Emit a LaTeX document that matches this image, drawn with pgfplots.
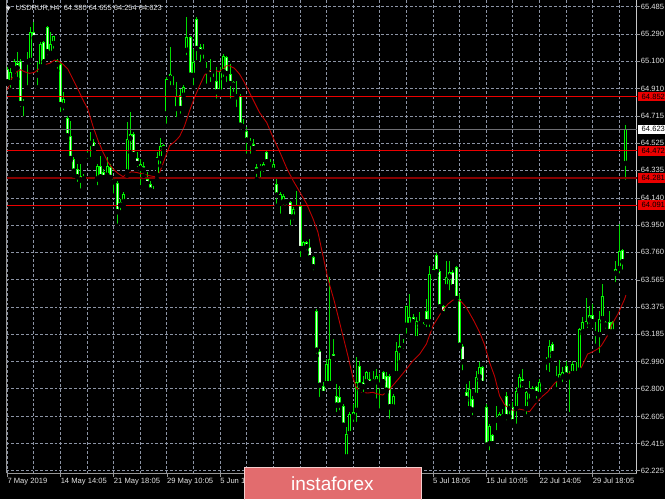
\documentclass[border=0pt]{standalone}
\usepackage{pgfplots}
\pgfplotsset{compat=1.18}
\usepackage{pgfplotstable}
\usepackage{fontspec}
\setmainfont{Liberation Sans}

\definecolor{wick}{RGB}{0,220,0}
\definecolor{bodyedge}{RGB}{0,250,0}
\definecolor{bearfill}{RGB}{220,255,220}
\definecolor{gridc}{RGB}{140,148,165}
\definecolor{hred}{RGB}{235,0,0}
\definecolor{hdark}{RGB}{135,0,0}
\definecolor{marc}{RGB}{190,0,0}
\definecolor{curline}{RGB}{110,110,115}
\definecolor{wmfill}{RGB}{226,108,110}
\definecolor{wmedge}{RGB}{245,205,205}
\definecolor{labc}{RGB}{228,228,228}
\definecolor{framec}{RGB}{150,150,150}
\definecolor{rightc}{RGB}{200,200,200}
\newcommand{\lab}{\fontsize{7.6}{9}\selectfont}
\tikzset{gridline/.style={draw=gridc, line width=1pt, dash pattern=on 2.7pt off 2.1pt}}

\pgfplotstableread{
i o h l c
0 65.046 65.058 64.941 64.952
1 64.948 65.050 64.900 65.027
2 65.027 65.116 65.000 65.104
3 65.090 65.168 64.976 65.050
4 65.104 65.116 64.765 64.800
5 64.800 64.835 64.700 64.814
6 65.093 65.163 64.917 65.104
7 65.104 65.339 65.069 65.304
8 65.304 65.374 65.257 65.261
9 65.011 65.093 64.917 65.000
10 65.058 65.233 65.034 65.222
11 65.233 65.245 65.069 65.093
12 65.339 65.350 65.128 65.163
13 65.151 65.304 65.128 65.222
14 65.222 65.280 65.175 65.275
15 65.104 65.116 65.034 65.075
16 65.081 65.093 64.730 64.793
17 64.784 64.882 64.742 64.835
18 64.700 64.718 64.543 64.573
19 64.573 64.683 64.402 64.414
20 64.414 64.426 64.297 64.325
21 64.344 64.379 64.239 64.285
22 64.297 64.379 64.192 64.262
23 64.290 64.309 64.245 64.270
24 64.436 64.473 64.402 64.456
25 64.536 64.606 64.414 64.520
26 64.531 64.555 64.473 64.484
27 64.270 64.379 64.215 64.363
28 64.367 64.437 64.262 64.285
29 64.320 64.344 64.262 64.280
30 64.297 64.426 64.274 64.363
31 64.356 64.379 64.250 64.281
32 64.278 64.285 64.157 64.250
33 64.245 64.262 63.946 64.040
34 64.114 64.133 64.040 64.086
35 64.110 64.180 64.086 64.168
36 64.320 64.672 64.297 64.555
37 64.555 64.742 64.461 64.590
38 64.590 64.601 64.426 64.442
39 64.421 64.461 64.344 64.379
40 64.344 64.414 64.215 64.379
41 64.367 64.391 64.297 64.332
42 64.274 64.320 64.215 64.238
43 64.238 64.262 64.180 64.192
44 64.192 64.227 64.168 64.180
45 64.297 64.461 64.274 64.426
46 64.414 64.559 64.367 64.508
47 64.512 64.519 64.473 64.484
48 64.730 64.988 64.648 64.976
49 64.976 65.198 64.917 65.011
50 65.011 65.027 64.917 65.023
51 64.765 64.952 64.695 64.859
52 64.864 64.906 64.718 64.765
53 64.859 64.933 64.835 64.917
54 65.175 65.409 65.128 65.268
55 65.268 65.280 64.988 64.999
56 64.999 65.187 64.917 65.093
57 65.397 65.409 65.093 65.187
58 65.198 65.222 65.081 65.163
59 65.163 65.222 65.104 65.187
60 65.040 65.093 64.929 65.030
61 65.040 65.116 64.941 65.004
62 65.030 65.046 64.976 65.040
63 64.964 65.058 64.824 64.882
64 64.882 65.058 64.870 65.034
65 65.023 65.151 64.976 65.140
66 65.128 65.140 64.941 65.011
67 65.011 65.081 64.824 64.941
68 64.952 64.964 64.871 64.929
69 64.859 64.964 64.765 64.847
70 64.859 64.871 64.636 64.648
71 64.636 64.695 64.613 64.648
72 64.613 64.636 64.437 64.543
73 64.543 64.559 64.437 64.520
74 64.520 64.555 64.473 64.484
75 64.356 64.379 64.274 64.325
76 64.367 64.379 64.262 64.344
77 64.344 64.391 64.309 64.379
78 64.461 64.470 64.367 64.391
79 64.395 64.414 64.356 64.372
80 64.332 64.402 64.309 64.379
81 64.239 64.274 64.086 64.157
82 64.098 64.180 64.016 64.168
83 64.110 64.168 64.075 64.157
84 64.121 64.133 64.075 64.110
85 64.114 64.121 63.934 64.004
86 64.004 64.075 63.969 64.063
87 64.063 64.192 64.051 64.086
88 64.086 64.098 63.712 63.782
89 63.782 63.841 63.759 63.829
90 63.829 63.841 63.759 63.794
91 63.794 63.853 63.712 63.717
92 63.723 63.735 63.618 63.653
93 63.349 63.361 63.033 63.068
94 63.068 63.080 62.729 62.822
95 62.822 62.846 62.741 62.764
96 62.834 63.010 62.822 62.974
97 62.834 63.583 62.822 63.010
98 63.045 63.150 62.986 63.010
99 62.752 62.834 62.623 62.682
100 62.740 62.822 62.635 62.682
101 62.682 62.693 62.518 62.541
102 62.319 62.529 62.307 62.483
103 62.483 62.635 62.471 62.623
104 62.600 62.693 62.553 62.635
105 62.647 63.022 62.553 62.846
106 62.963 62.998 62.787 62.822
107 62.846 62.892 62.764 62.811
108 62.846 62.928 62.822 62.916
109 62.869 62.916 62.822 62.834
110 62.846 62.928 62.834 62.869
111 62.846 62.939 62.717 62.892
112 62.834 62.904 62.647 62.822
113 62.916 62.928 62.834 62.846
114 62.892 62.916 62.775 62.787
115 62.888 62.904 62.576 62.670
116 62.670 62.764 62.658 62.752
117 62.904 63.126 62.893 63.068
118 63.068 63.185 62.986 63.103
119 63.100 63.150 63.068 63.115
120 63.244 63.384 63.173 63.384
121 63.244 63.466 63.232 63.302
122 63.302 63.326 63.255 63.267
123 63.150 63.302 63.138 63.279
124 63.279 63.337 63.232 63.255
125 63.255 63.267 63.220 63.232
126 63.349 63.431 63.220 63.267
127 63.267 63.665 63.220 63.606
128 63.595 63.665 63.583 63.642
129 63.740 63.754 63.595 63.618
130 63.630 63.642 63.349 63.372
131 63.384 63.389 63.314 63.326
132 63.513 63.700 63.501 63.583
133 63.583 63.700 63.478 63.623
134 63.623 63.637 63.501 63.513
135 63.658 63.665 63.419 63.431
136 63.431 63.466 63.091 63.103
137 63.103 63.115 62.916 62.986
138 62.776 62.834 62.717 62.729
139 62.658 62.857 62.646 62.799
140 62.729 62.752 62.600 62.647
141 62.752 62.928 62.740 62.881
142 62.881 62.986 62.857 62.951
143 62.951 62.963 62.822 62.834
144 62.670 62.693 62.389 62.401
145 62.412 62.553 62.354 62.541
146 62.476 62.483 62.401 62.412
147 62.593 62.682 62.495 62.576
148 62.588 62.635 62.576 62.623
149 62.623 62.658 62.588 62.600
150 62.752 62.775 62.565 62.600
151 62.681 62.693 62.607 62.658
152 62.670 62.705 62.541 62.565
153 62.658 62.811 62.541 62.787
154 62.787 62.904 62.776 62.881
155 62.869 62.940 62.799 62.834
156 62.658 62.787 62.607 62.780
157 62.780 62.858 62.717 62.787
158 62.776 62.822 62.752 62.803
159 62.811 62.822 62.717 62.764
160 62.757 62.869 62.752 62.851
161 62.851 62.858 62.811 62.841
162 62.986 63.022 62.916 62.998
163 62.998 63.145 62.904 63.103
164 63.115 63.127 63.033 63.045
165 62.881 62.963 62.799 62.869
166 62.858 63.005 62.834 62.904
167 62.881 62.951 62.834 62.916
168 62.963 62.998 62.869 62.893
169 62.893 62.928 62.623 62.881
170 62.904 62.998 62.893 62.975
171 62.904 62.986 62.893 62.920
172 62.928 63.225 62.916 63.220
173 63.197 63.302 63.185 63.272
174 63.209 63.436 63.197 63.279
175 63.279 63.384 63.244 63.318
176 63.318 63.396 63.244 63.267
177 63.202 63.267 63.103 63.185
178 63.178 63.349 63.038 63.290
179 63.290 63.536 63.267 63.454
180 63.267 63.279 63.209 63.244
181 63.267 63.349 63.185 63.197
182 63.197 63.279 63.185 63.267
183 63.607 63.700 63.536 63.642
184 63.642 63.958 63.595 63.771
185 63.775 63.782 63.623 63.689
186 64.380 64.655 64.254 64.623
}\candles

\begin{document}
\begin{tikzpicture}[x=1pt,y=1pt]
\useasboundingbox (0,0) rectangle (665,499);
\clip (0,0) rectangle (665,499);
\fill[black] (0,0) rectangle (665,499);
\begin{axis}[
  at={(2,18)}, anchor=south west,
  scale only axis, width=630pt, height=481pt,
  xmin=-0.2105, xmax=189.23, ymin=62.2068, ymax=65.5846,
  clip=false,
  axis x line*=bottom, axis y line*=right,
  axis line style={framec, line width=1pt},
  y axis line style={rightc, line width=1pt},
  xtick={0,16,...,176},
  xticklabels={},
  ytick={62.225,62.415,62.605,62.800,62.990,63.185,63.375,63.565,63.760,63.950,64.140,64.335,64.525,64.715,64.910,65.100,65.290,65.485},
  yticklabels={62.225,62.415,62.605,62.800,62.990,63.185,63.375,63.565,63.760,63.950,64.140,64.335,64.525,64.715,64.910,65.100,65.290,65.485},
  tick align=outside,
  major tick length=3.5pt,
  tick style={color=framec, line width=0.8pt},
  ticklabel style={font=\lab, text=labc, inner sep=0pt},
  yticklabel style={anchor=west, xshift=0.5pt},
]
% grid
\pgfplotsinvokeforeach{0,8,...,184}{\draw[gridline] (axis cs:#1,62.2068) -- (axis cs:#1,65.5846);}
\pgfplotsinvokeforeach{62.225,62.415,62.605,62.800,62.990,63.185,63.375,63.565,63.760,63.950,64.140,64.335,64.525,64.715,64.910,65.100,65.290,65.485}{\draw[gridline] (axis cs:-0.2105,#1) -- (axis cs:189.23,#1);}
% wicks
\addplot[only marks, mark=none,
  error bars/.cd, y dir=plus, y explicit, error mark=none,
  error bar style={line width=1pt, color=wick}]
  table[x=i, y=l, y error expr=\thisrow{h}-\thisrow{l}] {\candles};
% body outlines
\addplot[only marks, mark=none,
  error bars/.cd, y dir=plus, y explicit, error mark=none,
  error bar style={line width=3pt, color=bodyedge}]
  table[x=i, y expr={min(\thisrow{o},\thisrow{c})}, y error expr={max(abs(\thisrow{c}-\thisrow{o}),0.008)}] {\candles};
% bear fill
\addplot[only marks, mark=none,
  error bars/.cd, y dir=plus, y explicit, error mark=none,
  error bar style={line width=1.1pt, color=bearfill}]
  table[x=i, y expr={min(\thisrow{o},\thisrow{c})+0.007}, y error expr={max(\thisrow{o}-\thisrow{c}-0.014,0)}] {\candles};
% bull fill
\addplot[only marks, mark=none,
  error bars/.cd, y dir=plus, y explicit, error mark=none,
  error bar style={line width=1.1pt, color=black}]
  table[x=i, y expr={min(\thisrow{o},\thisrow{c})+0.007}, y error expr={max(\thisrow{c}-\thisrow{o}-0.014,0)}] {\candles};
% moving average
\addplot[marc, line width=0.9pt] coordinates {
(0,64.900) (1.2,64.976) (2.7,65.027) (4,65.041) (5.2,65.027) (6.7,65.016) (8.2,65.023) (9.7,65.051) (11.2,65.077) (12.7,65.086) (14.2,65.109) (15.2,65.104) (16.7,65.081) (18.2,65.046) (19.7,64.976) (21.2,64.906) (22.7,64.831) (24.2,64.765) (25.7,64.648) (27.3,64.543) (28.8,64.461) (30.3,64.391) (31.8,64.344) (33.3,64.313) (34.8,64.290) (35.8,64.309) (37.3,64.325) (38.8,64.320) (40.8,64.309) (42.8,64.297) (44.3,64.290) (45.8,64.320) (47.3,64.414) (48.8,64.508) (50.3,64.536) (51.8,64.573) (53.3,64.648) (54.8,64.753) (56.3,64.847) (57.8,64.929) (59.3,65.004) (60.8,65.034) (62.3,65.041) (63.6,65.027) (64.8,65.046) (65.8,65.069) (66.8,65.069) (68.3,65.051) (69.8,65.011) (71.3,64.952) (72.8,64.882) (74.3,64.812) (75.8,64.742) (78,64.670) (80,64.560) (82,64.460) (84,64.350) (86,64.260) (88,64.180) (90,64.100) (92,63.990) (93.4,63.900) (94.9,63.735) (96.4,63.572) (98.4,63.408) (100.4,63.220) (102.4,63.033) (103.9,62.881) (104.9,62.811) (106.4,62.776) (108.4,62.771) (109.9,62.776) (111.4,62.764) (112.9,62.757) (115,62.799) (118,62.881) (120,62.939) (122,62.998) (124,63.045) (126,63.115) (128,63.244) (129.5,63.300) (131,63.356) (132.5,63.396) (134,63.424) (135.2,63.426) (136.5,63.412) (138,63.372) (140,63.290) (142,63.197) (143.5,63.110) (145,62.986) (146.5,62.890) (148,62.752) (149.5,62.690) (151,62.658) (152.5,62.648) (154,62.658) (155.5,62.651) (157,62.640) (159,62.700) (160.5,62.740) (162.5,62.780) (164.6,62.840) (166.6,62.881) (168.5,62.900) (169.6,62.916) (171.5,62.920) (172.6,62.950) (174.5,63.045) (175.6,63.056) (177.5,63.080) (178.6,63.103) (180.5,63.176) (181.6,63.244) (183.6,63.326) (185.6,63.430) (186,63.459)};
% horizontal levels
\addplot[hred, line width=1pt] coordinates {(-0.2105,64.852) (189.23,64.852)};
\addplot[hred, line width=1pt] coordinates {(-0.2105,64.472) (189.23,64.472)};
\addplot[hdark, line width=2.8pt] coordinates {(-0.2105,64.281) (189.23,64.281)};
\addplot[hred, line width=1pt] coordinates {(-0.2105,64.091) (189.23,64.091)};
\addplot[curline, line width=1.6pt] coordinates {(-0.2105,64.623) (189.23,64.623)};
% left frame
\draw[framec, line width=1.6pt] (rel axis cs:0,0) -- (rel axis cs:0,1);
% x tick labels
\node[anchor=north west, inner sep=0pt, font=\lab, text=labc, yshift=-4.2pt] at (axis cs:0,62.2068) {7 May 2019};
\node[anchor=north west, inner sep=0pt, font=\lab, text=labc, yshift=-4.2pt] at (axis cs:16,62.2068) {14 May 14:05};
\node[anchor=north west, inner sep=0pt, font=\lab, text=labc, yshift=-4.2pt] at (axis cs:32,62.2068) {21 May 18:05};
\node[anchor=north west, inner sep=0pt, font=\lab, text=labc, yshift=-4.2pt] at (axis cs:48,62.2068) {29 May 10:05};
\node[anchor=north west, inner sep=0pt, font=\lab, text=labc, yshift=-4.2pt] at (axis cs:64,62.2068) {5 Jun 14:05};
\node[anchor=north west, inner sep=0pt, font=\lab, text=labc, yshift=-4.2pt] at (axis cs:128,62.2068) {5 Jul 18:05};
\node[anchor=north west, inner sep=0pt, font=\lab, text=labc, yshift=-4.2pt] at (axis cs:144,62.2068) {15 Jul 10:05};
\node[anchor=north west, inner sep=0pt, font=\lab, text=labc, yshift=-4.2pt] at (axis cs:160,62.2068) {22 Jul 14:05};
\node[anchor=north west, inner sep=0pt, font=\lab, text=labc, yshift=-4.2pt] at (axis cs:176,62.2068) {29 Jul 18:05};
% price labels
\node[anchor=west, fill=hred, text=black, inner sep=0pt, minimum width=31pt, minimum height=9.5pt, font=\lab, xshift=1pt] at (axis cs:189.23,64.852) {64.852};
\node[anchor=west, fill=hred, text=black, inner sep=0pt, minimum width=31pt, minimum height=9.5pt, font=\lab, xshift=1pt] at (axis cs:189.23,64.472) {64.472};
\node[anchor=west, fill=hred, text=black, inner sep=0pt, minimum width=31pt, minimum height=9.5pt, font=\lab, xshift=1pt] at (axis cs:189.23,64.281) {64.281};
\node[anchor=west, fill=hred, text=black, inner sep=0pt, minimum width=31pt, minimum height=9.5pt, font=\lab, xshift=1pt] at (axis cs:189.23,64.091) {64.091};
\node[anchor=west, fill=white, text=black, inner sep=0pt, minimum width=31pt, minimum height=9.5pt, font=\lab, xshift=1pt] at (axis cs:189.23,64.623) {64.623};
\end{axis}
% header
\fill[labc] (5.8,492.3) -- (10.6,492.3) -- (8.2,488.3) -- cycle;
\node[anchor=west, text=labc, inner sep=0pt, font=\fontsize{7.5}{9}\selectfont] at (15.7,490.3) {USDRUR,H4\ \ 64.380 64.655 64.254 64.623};
% watermark
\fill[wmfill] (244,0) rectangle (422,32);
\draw[wmedge, line width=1pt] (244.5,-1) -- (244.5,31.5) -- (421.5,31.5) -- (421.5,-1);
\node[anchor=base west, inner sep=0pt, text=white, font=\fontsize{19}{20}\selectfont] at (291,9) {instaforex};
\end{tikzpicture}
\end{document}
